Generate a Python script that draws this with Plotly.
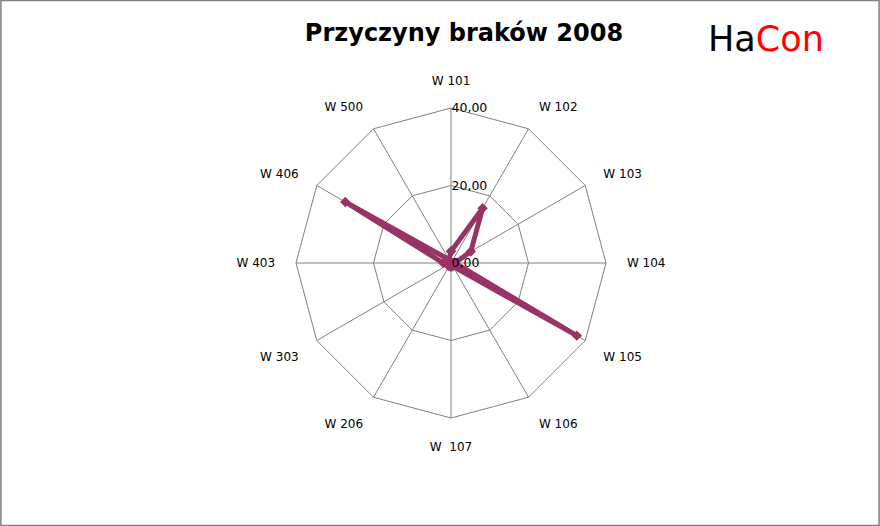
import plotly.graph_objects as go

categories = ["W 101", "W 102", "W 103", "W 104", "W 105", "W 106",
              "W  107", "W 206", "W 303", "W 403", "W 406", "W 500"]
values = [3.0, 16.3, 5.9, 1.0, 37.5, 1.0, 1.0, 1.0, 1.0, 2.0, 31.5, 1.0]
radial_ticks = [0, 20, 40]
radial_ticktext = ["0,00", "20,00", "40,00"]

color = "#993366"

fig = go.Figure()
fig.add_trace(go.Scatterpolar(
    r=values + values[:1],
    theta=categories + categories[:1],
    mode="lines+markers",
    line=dict(color=color, width=5),
    marker=dict(symbol="diamond", size=8, color=color),
    showlegend=False,
))

cx, cy, R = 451, 263, 155
W, H = 880, 526

fig.update_layout(
    width=W, height=H,
    margin=dict(l=0, r=0, t=0, b=0),
    paper_bgcolor="white",
    plot_bgcolor="white",
    font=dict(family="DejaVu Sans", size=12, color="black"),
    title=dict(text="<b>Przyczyny braków 2008</b>", x=464 / W, y=1 - 33 / H,
               xanchor="center", yanchor="middle",
               font=dict(family="DejaVu Sans", size=24, color="black")),
    polar=dict(
        domain=dict(x=[(cx - R) / W, (cx + R) / W],
                    y=[(H - cy - R) / H, (H - cy + R) / H]),
        bgcolor="white",
        gridshape="linear",
        radialaxis=dict(
            range=[0, 40], tickvals=radial_ticks, ticktext=radial_ticktext,
            angle=90, tickangle=90, showline=False, ticks="",
            gridcolor="#808080", gridwidth=1,
            tickfont=dict(size=12.5, color="black"),
        ),
        angularaxis=dict(
            direction="clockwise", rotation=90,
            gridcolor="#808080", gridwidth=1,
            linecolor="#808080", linewidth=1, showline=True,
            ticks="outside", ticklen=18, tickcolor="rgba(0,0,0,0)",
            tickfont=dict(size=12, color="black"),
        ),
    ),
    shapes=[dict(type="rect", xref="paper", yref="paper", x0=0.001, y0=0.001,
                 x1=0.999, y1=0.999, line=dict(color="#808080", width=1.5))],
    annotations=[dict(text="Ha<span style='color:#ff0000'>Con</span>",
                      xref="paper", yref="paper", x=766 / W, y=1 - 39 / H,
                      xanchor="center", yanchor="middle", showarrow=False,
                      font=dict(family="DejaVu Sans", size=35, color="black"))],
)

fig.write_html("out.html", config={"displayModeBar": False})

with open("out.html", encoding="utf-8") as f:
    html = f.read()
html = html.replace("<head>", "<head><style>html,body{margin:0;padding:0;overflow:hidden;}</style>", 1)
with open("out.html", "w", encoding="utf-8") as f:
    f.write(html)
